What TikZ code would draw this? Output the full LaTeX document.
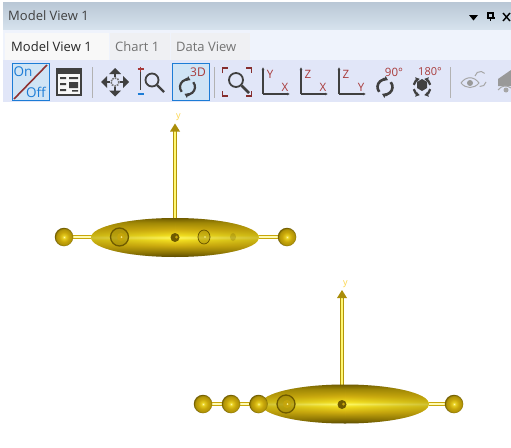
\documentclass[tikz,border=0pt]{standalone}
\usepackage{fontspec}
\setmainfont{Open Sans}
\usetikzlibrary{arrows.meta,fadings}
\definecolor{gold}{HTML}{C8A60A}
\definecolor{darkgold}{HTML}{6E5A00}
\definecolor{ink}{HTML}{404040}
\definecolor{redb}{HTML}{A83A3A}
\definecolor{blueb}{HTML}{1C7CD6}
\definecolor{g1}{HTML}{5A4A00}
\definecolor{g2}{HTML}{8C7404}
\definecolor{g3}{HTML}{D2B010}
\definecolor{g4}{HTML}{F4E020}
\definecolor{g5}{HTML}{FFF860}
\definecolor{g6}{HTML}{A08806}
\definecolor{h1}{HTML}{FFF8A0}
\definecolor{h2}{HTML}{E8D020}
\definecolor{h3}{HTML}{B09408}
\definecolor{titletop}{HTML}{B9C7D5}
\definecolor{titlebot}{HTML}{D7E3EE}
\definecolor{tabband}{HTML}{EFF3FC}
\definecolor{toolband}{HTML}{E1E6F8}
\definecolor{tabon}{HTML}{F8F8F8}
\definecolor{taboff}{HTML}{EFF0F3}
\definecolor{actfill}{HTML}{D0E4F5}
\pgfdeclareverticalshading{goldbody}{100bp}{%
 color(0bp)=(g1);color(25bp)=(g1);color(31bp)=(g2);color(40bp)=(g3);color(47bp)=(g4);color(50bp)=(g5);color(53bp)=(g4);color(60bp)=(g3);color(69bp)=(g6);color(75bp)=(darkgold);color(100bp)=(darkgold)}
\pgfdeclareradialshading{goldball}{\pgfpoint{0bp}{0bp}}{%
 color(0bp)=(h1);color(4bp)=(h2);color(13bp)=(gold);color(21bp)=(h3);color(25bp)=(darkgold);color(50bp)=(darkgold)}
\tikzfading[name=endsdark,left color=transparent!50,right color=transparent!50,middle color=transparent!100]
\tikzset{
 x=1pt,y=-1pt,
 ball/.style={circle,inner sep=0pt,minimum size=#1,shading=goldball},
 rod/.style={draw=gold,line width=1.5pt,double=yellow!30!white,double distance=1.7pt},
 axisrod/.style={draw=gold!90!black,line width=1.4pt,double=yellow!55!white,double distance=1.2pt},
 inner/.style={draw=darkgold,line width=1.3pt,fill=g6,fill opacity=.55},
 label/.style={font=\fontsize{13}{15}\selectfont,text=#1,inner sep=0pt,anchor=west},
 iconred/.style={font=\fontsize{11.5}{13}\selectfont,text=redb,inner sep=0pt},
 iconblue/.style={font=\fontsize{13.5}{15}\selectfont,text=blueb,inner sep=0pt},
 ylabel/.style={font=\fontsize{9}{10}\selectfont,text=yellow!60!orange!70!white,inner sep=0pt},
 icn/.style={draw=ink,line width=1.8pt},
 rot/.style={draw=ink,line width=2.2pt,-{Latex[length=4pt,width=6pt]}},
 sep/.style={draw=black!30,line width=.8pt},
 actbox/.style={draw=blueb,line width=1pt,fill=actfill},
}
\newcommand{\axesicon}[3]{%
 \draw[icn,line width=1.4pt,-{Latex[length=3pt,width=3pt]}] (#1,94) -- (#1,67);
 \draw[icn,line width=1.4pt,-{Latex[length=3pt,width=3pt]}] (#1,94) -- (#1+27,94);
 \node[iconred] (a#1) at (#1+7,74) {#2};
 \node[iconred] (b#1) at (#1+22,87) {#3};
}
\newcommand{\goldbody}[3]{% centre x, centre y, half width
 \shade[shading=goldbody] (#1,#2) ellipse[x radius=#3,y radius=19.5];
 \begin{scope}
  \clip (#1,#2) ellipse[x radius=#3,y radius=19.5];
  \fill[g6,path fading=endsdark] (#1-#3,#2-20) rectangle (#1+#3,#2+20);
 \end{scope}
}
\begin{document}
\begin{tikzpicture}
\useasboundingbox (0,0) rectangle (511,447);
\fill[white] (0,0) rectangle (511,447);
% chrome
\shade[top color=titletop,bottom color=titlebot] (3,2) rectangle (511,30);
\fill[tabband] (3,30) rectangle (511,60);
\fill[toolband] (3,60) rectangle (511,102);
\fill[tabon] (5,33) rectangle (109,60);
\fill[taboff] (110,33) rectangle (170,60);
\fill[taboff] (171,33) rectangle (250,60);
\node[label=ink] (title) at (8,16) {Model View 1};
\node[label=black!85] (tab1) at (11,47) {Model View 1};
\node[label=black!55] (tab2) at (115,47) {Chart 1};
\node[label=black!55] (tab3) at (176,47) {Data View};
% window controls
\fill[black] (469,15) -- (478,15) -- (473.5,20.5) -- cycle;
\draw[black,line width=1.2pt] (488,13) rectangle (493,18) (486.5,18) -- (494.5,18) (490.5,18) -- (490.5,21);
\draw[black,line width=1.4pt] (503,13) -- (510,21) (510,13) -- (503,21);
% separators
\draw[sep] (92.5,67) -- (92.5,98) (214.5,67) -- (214.5,98) (450.5,67) -- (450.5,98);
% on/off
\draw[actbox] (12.5,63.5) rectangle (49.5,100.5);
\draw[redb!85!black,line width=1.6pt] (14,99) -- (47,65);
\node[iconblue] (on) at (23,72) {On};
\node[iconblue] (off) at (36,92) {Off};
% panel icon
\fill[ink] (56,68) rectangle (82,96);
\fill[tabon] (58,74) rectangle (80,94);
\fill[ink] (60,77) rectangle (66,79) (60,83) rectangle (66,85) (60,89) rectangle (66,91) (69,77) rectangle (78,79) (69,82) rectangle (78,88) (72,90) rectangle (78,91.5);
% move icon
\draw[icn,line width=2.2pt] (106,82) -- (110,82) (120,82) -- (124,82) (115,73) -- (115,77) (115,87) -- (115,91);
\draw[black!55,line width=1.6pt,densely dotted] (115,82) circle[radius=4];
\fill[ink] (101,82) -- (107,76) -- (107,88) -- cycle (129,82) -- (123,76) -- (123,88) -- cycle (115,68) -- (109,74) -- (121,74) -- cycle (115,96.5) -- (109,90.5) -- (121,90.5) -- cycle;
% zoom icon
\draw[icn,line width=1.2pt] (140.5,72) -- (140.5,90);
\draw[redb,line width=1.2pt] (137.5,69) -- (143.5,69) (140.5,66.5) -- (140.5,71.5);
\draw[blueb,line width=1.4pt] (137.5,94) -- (143.5,94);
\draw[icn] (152,80) circle[radius=6.5];
\draw[icn,line width=2.4pt] (157,85) -- (164,92);
% 3D
\draw[actbox] (172.5,63.5) rectangle (209.5,100.5);
\node[iconred,font=\fontsize{12}{14}\selectfont] (threeD) at (198,72) {3D};
\draw[rot] (187.5,87) ++(140:7.5) arc[start angle=140,end angle=295,radius=7.5];
\draw[rot] (187.5,87) ++(320:7.5) arc[start angle=320,end angle=475,radius=7.5];
% magnifier frame
\draw[icn] (236,80) circle[radius=7];
\draw[icn,line width=2.6pt] (241.5,85.5) -- (249,93);
\draw[redb!80!black,line width=1.6pt] (222.5,73) -- (222.5,68) -- (228,68) (246,68) -- (251.5,68) -- (251.5,73) (222.5,91) -- (222.5,96) -- (228,96) (246,96) -- (251.5,96) -- (251.5,91);
% axes icons
\axesicon{263}{Y}{X}
\axesicon{301}{Z}{X}
\axesicon{339}{Z}{Y}
% 90 / 180
\node[iconred] (ninety) at (394,72) {90°};
\draw[rot,line width=2.6pt] (385,87) ++(140:7.5) arc[start angle=140,end angle=295,radius=7.5];
\draw[rot,line width=2.6pt] (385,87) ++(320:7.5) arc[start angle=320,end angle=475,radius=7.5];
\node[iconred,font=\fontsize{11}{13}\selectfont] (oneeighty) at (430,72) {180°};
\fill[ink] (422,79) -- (427,82) -- (427,88) -- (422,91) -- (417,88) -- (417,82) -- cycle;
\draw[rot,line width=2.2pt] (422,87) ++(165:8.5) arc[start angle=165,end angle=105,radius=8.5];
\draw[rot,line width=2.2pt] (422,87) ++(15:8.5) arc[start angle=15,end angle=75,radius=8.5];
\draw[rot,line width=2.2pt] (422,87) ++(195:8.5) arc[start angle=195,end angle=255,radius=8.5];
\draw[rot,line width=2.2pt] (422,87) ++(-15:8.5) arc[start angle=-15,end angle=-75,radius=8.5];
% eyes (disabled)
\draw[black!35,line width=1pt] (461,83) .. controls (466,76) and (474,76) .. (479,83) .. controls (474,89) and (466,89) .. (461,83);
\fill[black!40] (470,83) circle[radius=3];
\draw[black!35,line width=1pt] (475,76) arc[start angle=190,end angle=320,radius=5.5] (486,82) arc[start angle=10,end angle=100,radius=5.5];
\fill[black!40] (498,79) -- (511,70) -- (511,86) -- (498,86) -- cycle;
\draw[black!35,line width=1pt] (498,90) .. controls (502,85) and (507,85) .. (511,88);
\fill[black!35] (506,90) circle[radius=2.5];

% molecule 1
\coordinate (m1l) at (64,237);
\coordinate (m1r) at (287,237);
\coordinate (m1top) at (175,130);
\coordinate (m1base) at (175,220);
\draw[axisrod] (m1base) -- (m1top);
\fill[gold!85!black] (175,123.5) -- (180,131.5) -- (170,131.5) -- cycle;
\node[ylabel] (m1y) at (178.5,117.5) {y};
\path[rod] (m1l) -- (m1r);
\node[ball=18.5pt] (m1a) at (m1l) {};
\node[ball=18.5pt] (m1b) at (m1r) {};
\goldbody{175}{237.5}{84}
\draw[inner] (119.5,237) circle[radius=9];
\fill[gold,opacity=.8] (121,237) circle[radius=4];
\fill[h1,opacity=.8] (121.5,237) circle[radius=1];
\fill[darkgold] (175,237.5) circle[radius=4.5];
\fill[gold] (176.5,237) circle[radius=1.5];
\draw[inner,line width=.8pt,fill opacity=.4] (204,237) ellipse[x radius=6,y radius=7];
\fill[h1,opacity=.6] (205,237) circle[radius=1.2];
\fill[darkgold,opacity=.25] (233,237) ellipse[x radius=3,y radius=4];

% molecule 2
\coordinate (m2l) at (203,404);
\coordinate (m2r) at (454,404);
\coordinate (m2top) at (342,297);
\coordinate (m2base) at (342,387);
\draw[axisrod] (m2base) -- (m2top);
\fill[gold!85!black] (342,290) -- (347,298) -- (337,298) -- cycle;
\node[ylabel] (m2y) at (345.5,284.5) {y};
\path[rod] (m2l) -- (m2r);
\node[ball=18.5pt] (m2a) at (m2l) {};
\node[ball=18.5pt] (m2b) at (231,404) {};
\node[ball=18.5pt] (m2d) at (m2r) {};
\goldbody{345}{404}{84}
\node[ball=18.5pt] (m2c) at (258.5,404) {};
\draw[inner] (286,404) circle[radius=9];
\fill[gold,opacity=.8] (287,404) circle[radius=4];
\fill[h1,opacity=.8] (287.5,404) circle[radius=1];
\fill[darkgold] (342,404.5) circle[radius=4.5];
\fill[gold] (343.5,404) circle[radius=1.5];
\end{tikzpicture}
\end{document}
